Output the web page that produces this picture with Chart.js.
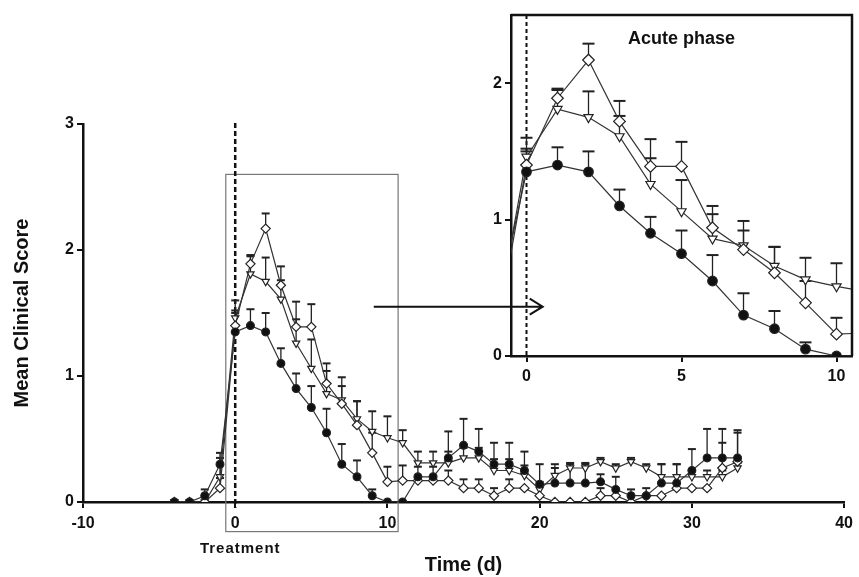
<!DOCTYPE html>
<html>
<head>
<meta charset="utf-8">
<script src="https://cdn.jsdelivr.net/npm/chart.js@4"></script>
<style>
  html, body { margin: 0; padding: 0; background: #fff; }
  #wrap { position: relative; width: 859px; height: 577px; }
  #mainChart { position: absolute; left: 0; top: 0; }
  #insetChart { position: absolute; left: 470px; top: 0; }
</style>
</head>
<body>
<div id="wrap">
  <canvas id="mainChart" width="859" height="577"></canvas>
  <canvas id="insetChart" width="389" height="400"></canvas>
</div>
<script>
// days after treatment
const days = [-4, -3, -2, -1, 0, 1, 2, 3, 4, 5, 6, 7, 8, 9, 10, 11, 12, 13, 14, 15, 16, 17, 18,
  19, 20, 21, 22, 23, 24, 25, 26, 27, 28, 29, 30, 31, 32, 33];

// filled circles
const circleMean = [0, 0, 0.05, 0.30, 1.35, 1.40, 1.35, 1.10, 0.90, 0.75, 0.55, 0.30, 0.20, 0.05, 0, 0,
  0.20, 0.20, 0.35, 0.45, 0.40, 0.30, 0.30, 0.25, 0.14, 0.15, 0.15, 0.15, 0.16, 0.10, 0.05, 0.05,
  0.15, 0.15, 0.25, 0.35, 0.35, 0.35];
const circleSem = [0, 0, 0.05, 0.09, 0.17, 0.13, 0.15, 0.12, 0.12, 0.17, 0.19, 0.16, 0.13, 0.05, 0, 0,
  0.08, 0.08, 0.21, 0.21, 0.18, 0.17, 0.17, 0.15, 0.16, 0.15, 0.15, 0.15, 0.06, 0.10, 0.05, 0.06,
  0.15, 0.15, 0.17, 0.23, 0.23, 0.22];

// open diamonds
const diamondMean = [0, 0, 0, 0.11, 1.40, 1.89, 2.17, 1.72, 1.39, 1.39, 0.94, 0.78, 0.61, 0.39, 0.16, 0.17,
  0.17, 0.17, 0.17, 0.11, 0.11, 0.05, 0.11, 0.11, 0.05, 0, 0, 0, 0.05, 0.05, 0, 0.05,
  0.05, 0.11, 0.11, 0.11, 0.27, 0.32];
const diamondSem = [0, 0, 0, 0.08, 0.10, 0.07, 0.12, 0.15, 0.20, 0.18, 0.16, 0.21, 0.19, 0.16, 0.12, 0.12,
  0, 0, 0.08, 0.07, 0.07, 0.06, 0.07, 0, 0, 0, 0, 0, 0.06, 0, 0, 0,
  0, 0, 0, 0, 0.20, 0.23];

// open triangles
const triangleMean = [0, 0, 0, 0.20, 1.46, 1.81, 1.75, 1.61, 1.26, 1.06, 0.86, 0.81, 0.66, 0.56, 0.51, 0.47,
  0.31, 0.31, 0.31, 0.35, 0.35, 0.25, 0.25, 0.21, 0.10, 0.21, 0.27, 0.27, 0.32, 0.27, 0.32, 0.27,
  0.20, 0.20, 0.20, 0.20, 0.20, 0.27];
const triangleSem = [0, 0, 0.05, 0.15, 0.14, 0.14, 0.19, 0.15, 0.19, 0.23, 0.18, 0.11, 0.14, 0.16, 0.17, 0.10,
  0.09, 0.09, 0.09, 0.08, 0.08, 0.09, 0.09, 0.08, 0.06, 0.06, 0.04, 0.04, 0.03, 0.03, 0.03, 0.03,
  0.10, 0.10, 0.05, 0.05, 0.05, 0.04];

const mainXTicks = [-10, 0, 10, 20, 30, 40];
const mainYTicks = [0, 1, 2, 3];
const insetXTicks = [0, 5, 10];
const insetYTicks = [0, 1, 2];

// zoom box and arrow on the main chart (data units)
const zoomBox = { x0: -0.62, x1: 10.7, y0: -0.235, y1: 2.6 };
const arrowLine = { x0: 9.1, x1: 20.2, y: 1.55 };

const FONT = '"Liberation Sans", Arial, sans-serif';
const INK = '#111';

function points(mean) {
  return days.map((d, i) => ({ x: d, y: mean[i] }));
}

function makeDatasets(big) {
  return [
    {
      label: 'circle',
      data: points(circleMean),
      sem: circleSem,
      pointStyle: 'circle',
      pointRadius: big ? 4.8 : 3.9,
      pointBackgroundColor: '#111'
    },
    {
      label: 'diamond',
      data: points(diamondMean),
      sem: diamondSem,
      pointStyle: 'rectRot',
      pointRadius: big ? 5.8 : 4.6,
      pointBackgroundColor: '#fff'
    },
    {
      label: 'triangle',
      data: points(triangleMean),
      sem: triangleSem,
      pointStyle: 'triangle',
      pointRotation: 180,
      pointRadius: big ? 5.3 : 4.2,
      pointBackgroundColor: '#fff'
    }
  ].map(ds => Object.assign({
    borderColor: '#333',
    pointBorderColor: '#222',
    borderWidth: 1.2,
    pointBorderWidth: 1.2,
    tension: 0,
    fill: false
  }, ds));
}

function errorBars(capHalf) {
  return {
    id: 'errorBars',
    beforeDatasetsDraw(chart) {
      const { ctx, chartArea, scales: { x, y } } = chart;
      ctx.save();
      ctx.beginPath();
      ctx.rect(chartArea.left, chartArea.top - 3, chartArea.right - chartArea.left, chartArea.bottom - chartArea.top + 3);
      ctx.clip();
      ctx.strokeStyle = '#222';
      chart.data.datasets.forEach(ds => {
        ds.sem.forEach((s, i) => {
          if (!s) return;
          const px = x.getPixelForValue(ds.data[i].x);
          const py = y.getPixelForValue(ds.data[i].y);
          const pt = y.getPixelForValue(ds.data[i].y + s);
          ctx.lineWidth = 1.3;
          ctx.beginPath(); ctx.moveTo(px, py); ctx.lineTo(px, pt); ctx.stroke();
          ctx.lineWidth = 2;
          ctx.beginPath(); ctx.moveTo(px - capHalf, pt); ctx.lineTo(px + capHalf, pt); ctx.stroke();
        });
      });
      ctx.restore();
    }
  };
}

const mainDecor = {
  id: 'mainDecor',
  beforeDatasetsDraw(chart) {
    const { ctx, chartArea, scales: { x, y } } = chart;
    ctx.save();
    // zoom rectangle
    ctx.strokeStyle = '#777';
    ctx.lineWidth = 1.2;
    const bx0 = x.getPixelForValue(zoomBox.x0), bx1 = x.getPixelForValue(zoomBox.x1);
    const by0 = y.getPixelForValue(zoomBox.y0), by1 = y.getPixelForValue(zoomBox.y1);
    ctx.strokeRect(bx0, by1, bx1 - bx0, by0 - by1);
    // treatment line
    ctx.strokeStyle = '#111';
    ctx.lineWidth = 2.5;
    ctx.setLineDash([5, 3]);
    const tx = x.getPixelForValue(0);
    ctx.beginPath();
    ctx.moveTo(tx, y.getPixelForValue(3) - 1);
    ctx.lineTo(tx, chartArea.bottom + 6);
    ctx.stroke();
    ctx.setLineDash([]);
    // arrow
    const ax0 = x.getPixelForValue(arrowLine.x0), ax1 = x.getPixelForValue(arrowLine.x1);
    const ay = y.getPixelForValue(arrowLine.y);
    ctx.lineWidth = 2;
    ctx.beginPath();
    ctx.moveTo(ax0, ay); ctx.lineTo(ax1, ay);
    ctx.moveTo(ax1 - 13, ay - 8); ctx.lineTo(ax1, ay); ctx.lineTo(ax1 - 13, ay + 8);
    ctx.stroke();
    // label
    ctx.fillStyle = INK;
    ctx.font = 'bold 15px ' + FONT;
    ctx.letterSpacing = '1px';
    ctx.textAlign = 'center';
    ctx.textBaseline = 'middle';
    ctx.fillText('Treatment', tx + 5, chartArea.bottom + 47);
    ctx.restore();
  }
};

const insetDecor = {
  id: 'insetDecor',
  beforeDatasetsDraw(chart) {
    const { ctx, chartArea, scales: { x } } = chart;
    ctx.save();
    ctx.strokeStyle = '#111';
    ctx.lineWidth = 2;
    ctx.setLineDash([4, 3]);
    const tx = x.getPixelForValue(0);
    ctx.beginPath();
    ctx.moveTo(tx, chartArea.top);
    ctx.lineTo(tx, chartArea.bottom);
    ctx.stroke();
    ctx.restore();
  },
  afterDatasetsDraw(chart) {
    const { ctx, chartArea, scales: { x } } = chart;
    ctx.save();
    ctx.strokeStyle = '#111';
    ctx.lineWidth = 2.5;
    ctx.beginPath();
    ctx.moveTo(chartArea.left, chartArea.top);
    ctx.lineTo(chartArea.right, chartArea.top);
    ctx.lineTo(chartArea.right, chartArea.bottom);
    ctx.stroke();
    ctx.fillStyle = INK;
    ctx.font = 'bold 18px ' + FONT;
    ctx.textAlign = 'center';
    ctx.textBaseline = 'middle';
    ctx.fillText('Acute phase', x.getPixelForValue(5), chartArea.top + 24);
    ctx.restore();
  }
};

function axis(extra) {
  return Object.assign({
    type: 'linear',
    border: { display: true, color: '#111', width: 2.5 },
    grid: { drawOnChartArea: false, drawTicks: true, tickLength: 6, color: '#111', lineWidth: 2 },
  }, extra);
}

// main chart
new Chart(document.getElementById('mainChart'), {
  type: 'line',
  data: { datasets: makeDatasets(false) },
  options: {
    responsive: false,
    animation: false,
    devicePixelRatio: 1,
    layout: { padding: { top: 124, right: 9, left: 0, bottom: 0 } },
    plugins: { legend: { display: false }, tooltip: { enabled: false } },
    scales: {
      x: axis({
        min: -10, max: 40,
        afterBuildTicks: s => { s.ticks = mainXTicks.map(v => ({ value: v })); },
        afterFit: s => { s.height = 75; },
        ticks: { color: INK, font: { family: FONT, size: 16, weight: 'bold' }, padding: 6, maxRotation: 0, autoSkip: false },
        title: { display: true, text: 'Time (d)', color: INK, font: { family: FONT, size: 20, weight: 'bold' }, padding: { top: 0, bottom: 0 } }
      }),
      y: axis({
        min: 0, max: 3,
        afterBuildTicks: s => { s.ticks = mainYTicks.map(v => ({ value: v })); },
        afterFit: s => { s.width = 83; },
        ticks: { color: INK, font: { family: FONT, size: 16, weight: 'bold' }, padding: 3 },
        title: { display: true, text: 'Mean Clinical Score', color: INK, font: { family: FONT, size: 20, weight: 'bold' }, padding: { top: 10, bottom: 0 } }
      })
    }
  },
  plugins: [mainDecor, errorBars(4)]
});

// inset chart (acute phase)
new Chart(document.getElementById('insetChart'), {
  type: 'line',
  data: { datasets: makeDatasets(true) },
  options: {
    responsive: false,
    animation: false,
    devicePixelRatio: 1,
    layout: { padding: { top: 15, right: 7, left: 0, bottom: 0 } },
    plugins: { legend: { display: false }, tooltip: { enabled: false } },
    scales: {
      x: axis({
        min: -0.5, max: 10.5,
        afterBuildTicks: s => { s.ticks = insetXTicks.map(v => ({ value: v })); },
        afterFit: s => { s.height = 44; },
        ticks: { color: INK, font: { family: FONT, size: 16, weight: 'bold' }, padding: 5, maxRotation: 0, autoSkip: false }
      }),
      y: axis({
        min: 0, max: 2.5,
        afterBuildTicks: s => { s.ticks = insetYTicks.map(v => ({ value: v })); },
        afterFit: s => { s.width = 41; },
        ticks: { color: INK, font: { family: FONT, size: 16, weight: 'bold' }, padding: 3 }
      })
    }
  },
  plugins: [insetDecor, errorBars(6)]
});
</script>
</body>
</html>
